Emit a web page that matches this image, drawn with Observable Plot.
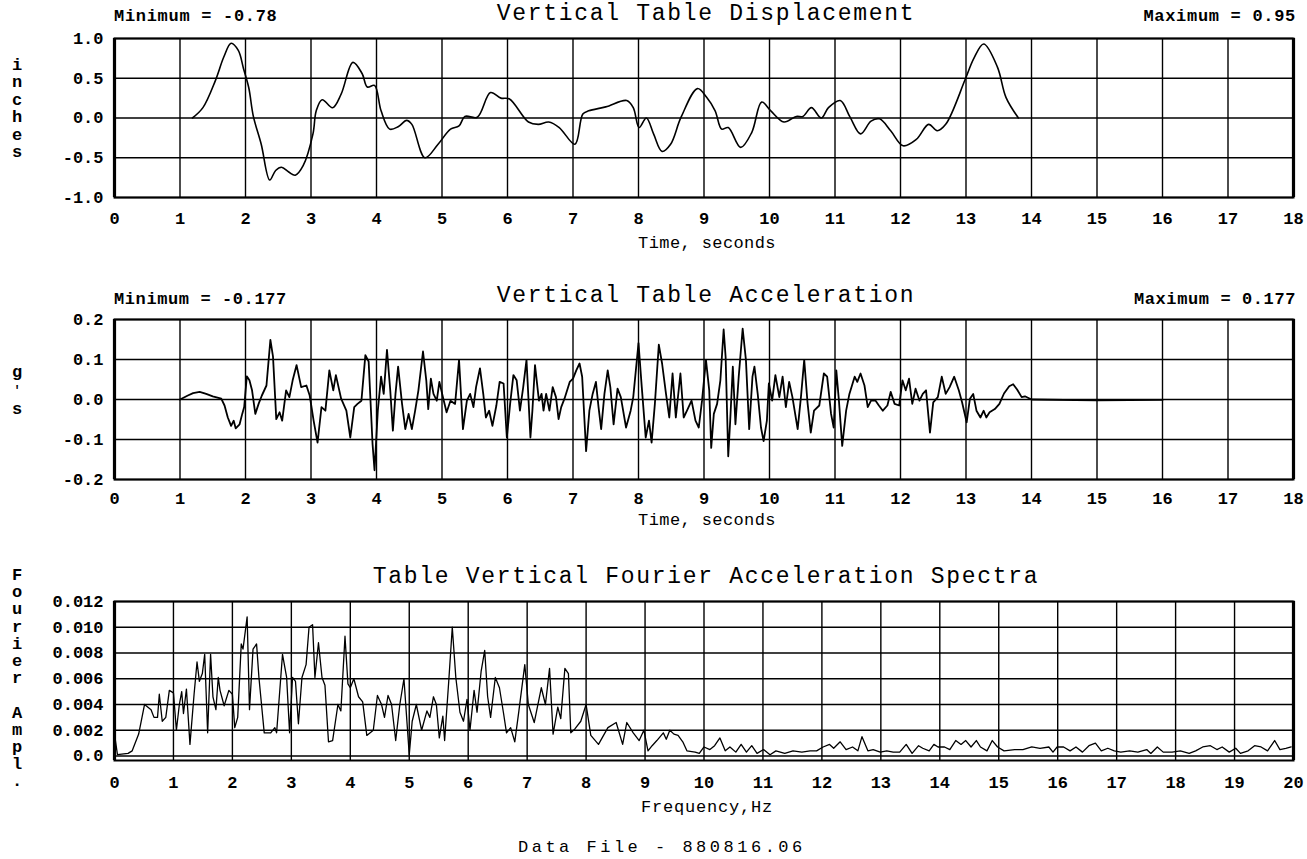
<!DOCTYPE html>
<html><head><meta charset="utf-8">
<script src="https://cdn.jsdelivr.net/npm/d3@7"></script>
<script src="https://cdn.jsdelivr.net/npm/@observablehq/plot@0.6"></script>
<style>
body{margin:0;background:#fff}
#wrap{position:relative;width:1307px;height:859px;background:#fff;overflow:hidden}
#wrap svg{position:absolute;left:0;max-width:none}
</style></head><body><div id="wrap"></div>
<script>
// ---------- tick labels ----------
const timeTicks = [0,1,2,3,4,5,6,7,8,9,10,11,12,13,14,15,16,17,18];
const freqTicks = [0,1,2,3,4,5,6,7,8,9,10,11,12,13,14,15,16,17,18,19,20];
const dispTicks = [-1.0,-0.5,0.0,0.5,1.0];
const accTicks = [-0.2,-0.1,0.0,0.1,0.2];
const fourTicks = [0.0,0.002,0.004,0.006,0.008,0.010,0.012];

// ---------- displacement (inches) ----------
const dispT = [1.19,1.35,1.54,1.67,1.78,1.89,1.97,2.05,2.12,2.24,2.37,2.46,2.55,2.66,2.76,2.88,3.03,3.08,3.17,3.33,3.46,3.64,3.78,3.86,3.97,4.07,4.2,4.33,4.46,4.54,4.74,4.94,5.13,5.26,5.35,5.54,5.74,5.9,6.03,6.32,6.47,6.63,6.79,7.03,7.15,7.24,7.5,7.82,7.92,8.01,8.12,8.23,8.36,8.49,8.65,8.9,9.04,9.17,9.27,9.37,9.56,9.73,9.88,10.02,10.22,10.41,10.51,10.64,10.79,10.9,11.08,11.23,11.39,11.55,11.68,11.85,12.04,12.24,12.43,12.56,12.69,12.99,13.12,13.27,13.48,13.61,13.8];
const dispV = [0.0,0.13,0.47,0.77,0.94,0.85,0.62,0.38,0.02,-0.33,-0.78,-0.66,-0.62,-0.68,-0.72,-0.6,-0.2,0.09,0.23,0.13,0.3,0.70,0.56,0.39,0.41,0.09,-0.14,-0.11,-0.03,-0.08,-0.50,-0.33,-0.14,-0.10,0.02,0.01,0.32,0.25,0.24,-0.05,-0.08,-0.05,-0.12,-0.33,0.05,0.09,0.14,0.22,0.13,-0.12,0.0,-0.2,-0.42,-0.33,0.01,0.37,0.26,0.09,-0.14,-0.12,-0.37,-0.18,0.20,0.09,-0.05,0.02,0.02,0.13,0.0,0.13,0.22,0.01,-0.2,-0.04,-0.01,-0.16,-0.35,-0.27,-0.08,-0.16,-0.08,0.49,0.75,0.93,0.64,0.26,0.0];

// ---------- acceleration (g's) ----------
const accT = [1.0,1.12,1.2,1.3,1.4,1.5,1.63,1.68,1.73,1.78,1.82,1.85,1.91,1.95,1.98,2.02,2.06,2.1,2.15,2.2,2.25,2.32,2.38,2.42,2.47,2.52,2.56,2.62,2.67,2.72,2.78,2.85,2.93,2.98,3.04,3.1,3.16,3.22,3.28,3.34,3.38,3.46,3.54,3.6,3.66,3.71,3.77,3.83,3.88,3.94,3.97,4.02,4.07,4.11,4.16,4.21,4.25,4.29,4.33,4.39,4.44,4.49,4.54,4.59,4.64,4.71,4.76,4.79,4.83,4.87,4.92,4.96,5.02,5.07,5.13,5.2,5.26,5.32,5.38,5.43,5.48,5.52,5.58,5.63,5.67,5.72,5.77,5.83,5.88,5.94,5.99,6.04,6.09,6.14,6.19,6.24,6.29,6.35,6.38,6.42,6.48,6.52,6.55,6.59,6.64,6.69,6.74,6.78,6.82,6.87,6.95,7.0,7.05,7.1,7.14,7.2,7.25,7.3,7.35,7.39,7.43,7.48,7.53,7.57,7.62,7.68,7.73,7.81,7.88,7.92,8.0,8.05,8.11,8.16,8.2,8.25,8.31,8.36,8.42,8.47,8.52,8.57,8.64,8.69,8.74,8.81,8.87,8.92,8.97,9.03,9.08,9.11,9.15,9.2,9.25,9.30,9.33,9.37,9.4,9.44,9.48,9.53,9.59,9.64,9.69,9.74,9.77,9.82,9.87,9.91,9.96,9.99,10.04,10.09,10.15,10.2,10.25,10.3,10.35,10.43,10.48,10.53,10.58,10.63,10.68,10.76,10.83,10.88,10.94,10.98,11.02,11.06,11.11,11.17,11.22,11.3,11.34,11.39,11.45,11.5,11.55,11.62,11.67,11.73,11.8,11.85,11.91,11.98,12.03,12.08,12.13,12.18,12.23,12.29,12.34,12.39,12.45,12.5,12.57,12.63,12.69,12.75,12.82,12.89,12.94,13.01,13.06,13.11,13.16,13.22,13.27,13.31,13.36,13.44,13.51,13.58,13.66,13.72,13.78,13.85,13.9,14.0,15.0,16.0];
const accV = [0.0,0.010,0.016,0.019,0.014,0.008,0.002,-0.015,-0.045,-0.066,-0.053,-0.072,-0.062,-0.036,-0.019,0.058,0.048,0.023,-0.036,-0.011,0.010,0.035,0.149,0.107,-0.049,-0.032,-0.053,0.023,0.006,0.048,0.086,0.031,0.035,0.010,-0.053,-0.108,-0.019,-0.028,0.073,0.023,0.061,0.002,-0.028,-0.095,-0.019,-0.011,-0.003,0.111,0.095,-0.112,-0.177,-0.028,0.057,0.014,0.124,0.023,-0.078,0.014,0.082,-0.011,-0.074,-0.036,-0.074,-0.028,0.023,0.120,0.048,-0.024,0.052,0.014,-0.003,0.044,0.002,-0.032,-0.003,-0.011,0.099,-0.074,-0.003,0.014,-0.019,0.031,0.078,0.014,-0.045,-0.028,-0.066,-0.015,0.044,0.040,-0.095,-0.011,0.061,0.048,-0.028,0.031,0.099,-0.095,-0.028,0.086,-0.003,0.014,-0.028,0.014,-0.028,0.031,0.006,-0.049,-0.019,0.002,0.044,0.052,0.073,0.090,0.057,-0.129,-0.028,0.014,0.044,-0.019,-0.074,0.014,0.073,0.031,-0.062,0.027,0.006,-0.070,-0.028,0.006,0.141,0.031,-0.095,-0.053,-0.108,-0.011,0.137,0.090,0.014,-0.045,0.065,-0.045,0.065,-0.045,-0.028,-0.003,-0.053,-0.070,-0.003,0.099,0.023,-0.121,-0.036,-0.011,0.048,0.175,0.107,-0.142,-0.053,0.082,-0.062,0.057,0.177,0.099,-0.074,0.057,0.082,0.014,-0.070,-0.104,-0.053,0.040,-0.003,0.061,0.006,0.057,-0.019,0.044,0.006,-0.074,0.006,0.099,-0.007,-0.083,-0.028,-0.015,0.065,0.057,-0.036,-0.070,0.073,-0.003,-0.116,-0.028,0.014,0.057,0.044,0.065,0.035,-0.019,-0.003,-0.003,-0.015,-0.028,-0.015,0.019,-0.011,-0.015,0.048,0.023,0.052,-0.011,0.027,-0.003,0.014,0.023,-0.083,-0.007,0.006,0.057,0.014,0.031,0.057,0.023,-0.007,-0.057,0.002,0.014,-0.028,-0.045,-0.028,-0.045,-0.032,-0.024,-0.011,0.015,0.033,0.038,0.025,0.006,0.008,0.0,-0.002,-0.001];

// ---------- Fourier amplitude spectrum ----------
const fourF = [0.0,0.05,0.23,0.3,0.41,0.51,0.62,0.67,0.73,0.76,0.81,0.87,0.93,1.0,1.05,1.1,1.14,1.17,1.22,1.28,1.35,1.4,1.44,1.49,1.53,1.58,1.63,1.67,1.72,1.76,1.79,1.86,1.94,2.0,2.04,2.09,2.15,2.18,2.25,2.29,2.35,2.41,2.45,2.54,2.65,2.72,2.75,2.85,2.92,2.97,3.02,3.07,3.12,3.18,3.25,3.3,3.36,3.4,3.46,3.52,3.57,3.63,3.7,3.79,3.84,3.91,3.96,4.0,4.06,4.14,4.21,4.28,4.39,4.46,4.53,4.58,4.64,4.7,4.77,4.84,4.91,5.0,5.05,5.12,5.21,5.3,5.35,5.41,5.46,5.51,5.57,5.6,5.67,5.73,5.79,5.86,5.92,5.98,6.03,6.1,6.15,6.22,6.28,6.33,6.38,6.46,6.53,6.6,6.65,6.72,6.79,6.86,6.96,7.02,7.12,7.24,7.31,7.38,7.44,7.52,7.57,7.64,7.7,7.74,7.81,7.91,8.0,8.08,8.21,8.37,8.51,8.62,8.69,8.8,8.9,8.98,9.05,9.12,9.2,9.31,9.36,9.42,9.49,9.56,9.64,9.71,9.85,9.92,10.0,10.1,10.18,10.27,10.36,10.44,10.54,10.63,10.72,10.81,10.9,11.01,11.12,11.22,11.37,11.51,11.66,11.8,11.91,12.02,12.13,12.2,12.31,12.41,12.52,12.61,12.68,12.78,12.87,12.99,13.1,13.21,13.32,13.43,13.53,13.64,13.71,13.82,13.9,13.97,14.08,14.17,14.27,14.36,14.44,14.53,14.62,14.69,14.8,14.89,14.98,15.09,15.27,15.41,15.56,15.7,15.85,15.92,15.99,16.1,16.21,16.31,16.42,16.53,16.64,16.74,16.85,16.96,17.07,17.22,17.36,17.51,17.58,17.69,17.79,17.94,18.08,18.23,18.34,18.46,18.59,18.7,18.79,18.91,19.02,19.1,19.23,19.34,19.45,19.56,19.68,19.77,19.87,19.96];
const fourA = [0.0017,0.0001,0.0002,0.0004,0.0017,0.0040,0.0036,0.0030,0.0030,0.0048,0.0027,0.0030,0.0051,0.0049,0.0020,0.0040,0.0050,0.0033,0.0052,0.0009,0.0048,0.0073,0.0058,0.0064,0.0079,0.0018,0.0079,0.0046,0.0036,0.0061,0.0051,0.0039,0.0051,0.0048,0.0022,0.0030,0.0087,0.0083,0.0108,0.0036,0.0083,0.0087,0.0061,0.0018,0.0018,0.0022,0.0018,0.0079,0.0061,0.0018,0.0061,0.0058,0.0025,0.0061,0.0071,0.0100,0.0102,0.0061,0.0088,0.0061,0.0055,0.0011,0.0012,0.0040,0.0035,0.0093,0.0056,0.0053,0.0060,0.0046,0.0042,0.0016,0.0020,0.0047,0.0040,0.0030,0.0047,0.0040,0.0012,0.0040,0.0060,0.0001,0.0027,0.0040,0.0020,0.0035,0.0030,0.0046,0.0040,0.0014,0.0031,0.0012,0.0058,0.0100,0.0061,0.0034,0.0027,0.0044,0.0020,0.0051,0.0034,0.0066,0.0082,0.0046,0.0030,0.0061,0.0053,0.0033,0.0018,0.0022,0.0011,0.0035,0.0071,0.0040,0.0026,0.0053,0.0040,0.0068,0.0017,0.0038,0.0029,0.0068,0.0064,0.0018,0.0021,0.0027,0.0040,0.0016,0.0009,0.0022,0.0026,0.0009,0.0026,0.0018,0.0012,0.0020,0.0004,0.0008,0.0012,0.0018,0.0013,0.0020,0.0017,0.0016,0.0011,0.0004,0.0003,0.0002,0.0007,0.0005,0.0008,0.0014,0.0004,0.0007,0.0003,0.0009,0.0003,0.0008,0.0002,0.0005,0.0001,0.0004,0.0002,0.0004,0.0003,0.0004,0.0004,0.0007,0.0009,0.0006,0.0011,0.0005,0.0007,0.0004,0.0015,0.0004,0.0005,0.0003,0.0004,0.0003,0.0003,0.0009,0.0002,0.0008,0.0006,0.0004,0.0009,0.0007,0.0007,0.0005,0.0012,0.0009,0.0012,0.0007,0.0012,0.0007,0.0004,0.0012,0.0007,0.0004,0.0005,0.0005,0.0007,0.0006,0.0007,0.0003,0.0007,0.0007,0.0004,0.0007,0.0003,0.0008,0.0010,0.0004,0.0006,0.0004,0.0003,0.0004,0.0003,0.0005,0.0002,0.0007,0.0003,0.0003,0.0004,0.0002,0.0004,0.0007,0.0008,0.0005,0.0007,0.0003,0.0006,0.0002,0.0004,0.0008,0.0007,0.0004,0.0012,0.0005,0.0006,0.0007];

const FONT = "'Liberation Mono', 'DejaVu Sans Mono', monospace";
const wrap = document.getElementById("wrap");

function panel(o) {
  const data = o.xs.map((x, i) => ({x, y: o.ys[i]}));
  const [x0, x1] = o.xDomain;
  const svg = Plot.plot({
    width: 1307, height: o.height,
    marginTop: o.mt, marginBottom: o.mb, marginLeft: 114, marginRight: 14,
    style: {fontFamily: FONT, fontSize: "17px", fontWeight: "bold", color: "#000", background: "transparent", overflow: "visible"},
    x: {domain: o.xDomain, ticks: o.xTicks, tickSize: 0, tickPadding: o.xPad, tickFormat: d => String(d), label: null},
    y: {domain: o.yDomain, ticks: o.yTicks, tickSize: 0, tickPadding: 11, tickFormat: o.yFmt, label: null},
    marks: [
      Plot.ruleX(o.xTicks, {stroke: "#000", strokeWidth: 1.4}),
      Plot.ruleY(o.yTicks, {stroke: "#000", strokeWidth: 1.4}),
      Plot.frame({stroke: "#000", strokeWidth: 2}),
      Plot.ruleX([x0, x1], {stroke: "#000", strokeWidth: 3.2}),
      Plot.line(data, {x: "x", y: "y", stroke: "#000", strokeWidth: o.sw, curve: o.curve})
    ]
  });
  svg.style.top = o.top + "px";
  wrap.appendChild(svg);
}

panel({top: 0, height: 230, mt: 38, mb: 33, xDomain: [0, 18], xTicks: timeTicks, xPad: 14,
  yDomain: [-1, 1], yTicks: dispTicks, yFmt: d => d.toFixed(1),
  xs: dispT, ys: dispV, sw: 1.6, curve: "catmull-rom"});

panel({top: 280, height: 230, mt: 39, mb: 31, xDomain: [0, 18], xTicks: timeTicks, xPad: 12,
  yDomain: [-0.2, 0.2], yTicks: accTicks, yFmt: d => d.toFixed(1),
  xs: accT, ys: accV, sw: 1.8, curve: "linear"});

panel({top: 560, height: 230, mt: 41, mb: 30, xDomain: [0, 20], xTicks: freqTicks, xPad: 15,
  yDomain: [-0.00035, 0.012], yTicks: fourTicks, yFmt: d => d === 0 ? "0.0" : d.toFixed(3),
  xs: fourF, ys: fourA, sw: 1.3, curve: "linear"});

// ---------- static text overlay ----------
const ov = d3.select(wrap).append("svg")
  .attr("width", 1307).attr("height", 859)
  .style("top", "0px").style("pointer-events", "none")
  .style("font-family", FONT).style("white-space", "pre");

function txt(s, x, y, size, opts = {}) {
  ov.append("text").attr("x", x).attr("y", y)
    .attr("text-anchor", opts.anchor || "start")
    .style("font-size", size + "px")
    .style("font-weight", opts.bold ? "bold" : "normal")
    .style("letter-spacing", (opts.ls || 0) + "px")
    .text(s);
}

// stacked (one letter per line) axis label as a single text element
function stacked(chars, x, y0, steps, size, sizes) {
  const t = ov.append("text").attr("x", x).attr("y", y0)
    .attr("text-anchor", "middle")
    .style("font-size", size + "px").style("font-weight", "bold");
  chars.forEach((c, i) => {
    const sp = t.append("tspan").attr("x", x).attr("dy", i === 0 ? 0 : steps[i - 1]).text(c);
    if (sizes && sizes[i]) sp.style("font-size", sizes[i] + "px");
  });
}

const titles = ["Vertical Table Displacement", "Vertical Table Acceleration", "Table Vertical Fourier Acceleration Spectra"];
txt(titles[0], 706, 20, 23, {anchor: "middle", ls: 1.7});
txt(titles[1], 706, 302, 23, {anchor: "middle", ls: 1.7});
txt(titles[2], 706, 583, 23, {anchor: "middle", ls: 1.7});

txt("Minimum = -0.78", 114, 21, 17, {bold: true, ls: 0.7});
txt("Maximum = 0.95", 1296, 21, 17, {bold: true, ls: 0.7, anchor: "end"});
txt("Minimum = -0.177", 114, 304, 17, {bold: true, ls: 0.6});
txt("Maximum = 0.177", 1296, 304, 17, {bold: true, ls: 0.6, anchor: "end"});

txt("Time, seconds", 707, 248, 17, {anchor: "middle", ls: 0.4});
txt("Time, seconds", 707, 525, 17, {anchor: "middle", ls: 0.4});
txt("Frequency,Hz", 707, 812, 17, {anchor: "middle", ls: 0.8});
txt("Data File -  880816.06", 518, 852, 17, {ls: 3.5});

// vertical axis labels (stacked letters)
stacked("inches".split(""), 17, 70, [17.4, 17.4, 17.4, 17.4, 17.4], 17);
stacked(["g", "'", "s"], 17, 377, [17, 20], 17, [0, 12, 0]);
stacked("Fourier Ampl.".split(""), 17, 580, Array(12).fill(17.2), 17);
</script></body></html>
